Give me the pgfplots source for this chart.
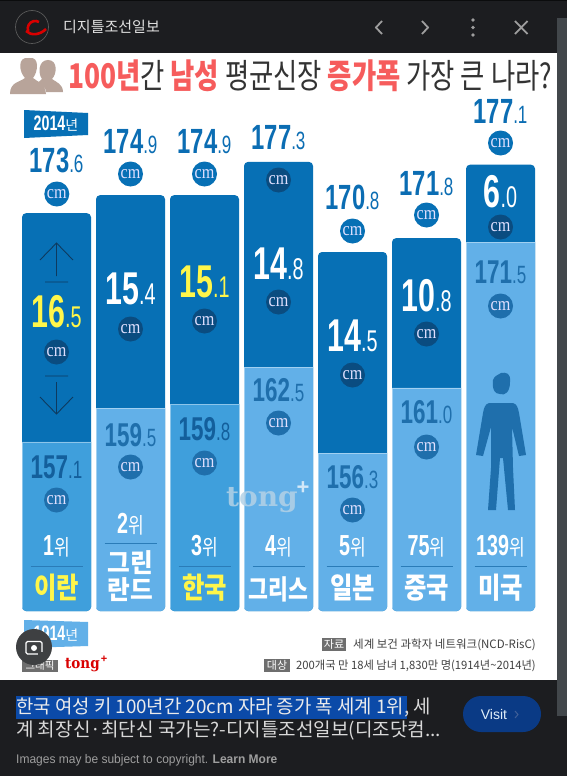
\documentclass[border=0pt]{standalone}
\usepackage{fontspec}
\usepackage{pgfplots}
\pgfplotsset{compat=1.18}
\usepackage{pgfplotstable}
\setmainfont{Liberation Sans}
\newfontfamily\kr{Noto Sans CJK KR}
\newfontfamily\numf[FakeStretch=0.68]{Liberation Sans}
\newfontfamily\bign[FakeStretch=0.66]{Liberation Sans}
\newfontfamily\cmf[FakeStretch=0.85]{Liberation Serif}
\newfontfamily\slab{DejaVu Serif}
\definecolor{bgd}{HTML}{1C1D20}
\definecolor{dk}{HTML}{0770B5}
\definecolor{lt}{HTML}{62B0E8}
\definecolor{ltd}{HTML}{3F9FDC}
\definecolor{tot}{HTML}{0B6DB3}
\definecolor{ltx}{HTML}{1F6FAC}
\definecolor{ltxd}{HTML}{135F9C}
\definecolor{ccd}{HTML}{0A4C80}
\definecolor{red1}{HTML}{F65C5C}
\definecolor{yel}{HTML}{FFF64A}
\definecolor{scr}{HTML}{42474B}
\definecolor{peo}{HTML}{B8A49A}
\definecolor{arr}{HTML}{0E3A5F}
\definecolor{rul}{HTML}{2A7CB8}
\definecolor{wm}{HTML}{B4D2E6}
\definecolor{gry}{HTML}{6E6E6E}
\definecolor{lens}{HTML}{3E4042}
\definecolor{sel}{HTML}{0B4AA8}
\definecolor{vis}{HTML}{0A3A85}
\definecolor{vis2}{HTML}{3F5F98}
\pgfplotstableread{
x total
0 173.6
1 174.9
2 174.9
3 177.3
4 170.8
5 171.8
6 177.1
}\totals
\pgfplotstableread{
x base
0 157.1
2 159.8
}\lightA
\pgfplotstableread{
x base
1 159.5
3 162.5
4 156.3
5 161.0
6 171.5
}\lightB
\newcommand\fs[1]{\fontsize{#1bp}{#1bp}\selectfont}
\newcommand\num[6]{\node[text=#6,inner sep=0] at (#1,#2) {\numf\bfseries\fs{#3}#4\mdseries\fs{25}#5};}
\newcommand\vb[6]{\node[text=#6,inner sep=0] at (#1,#2) {\bign\bfseries\fs{46}#3\mdseries\fs{#4}#5};}
\newcommand\cmc[3]{\fill[#3] (#1,#2) circle (12.5);\node[text=white!88!blue,inner sep=0] at (#1,#2) {\cmf\fs{19}cm};}
\newcommand\rk[3]{\node[text=white,inner sep=0] at (#1,#2) {\numf\bfseries\fs{29}#3\kr\mdseries\fs{19}\scalebox{0.9}[1.15]{위}};}
\newcommand\nm[4]{\node[text=#4,inner sep=0] at (#1,#2) {\kr\bfseries\fs{29}\scalebox{0.84}[1]{#3}};}
\begin{document}
\begin{tikzpicture}[x=1bp,y=-1bp]
\useasboundingbox (0,0) rectangle (567,776);
\fill[bgd] (0,0) rectangle (567,776);
\fill[white] (0,53) rectangle (557,680);
\fill[black!60!bgd] (0,0) rectangle (567,1);
\fill[scr] (557,18) rectangle (567,716);
% header
\draw[gray!70!black,line width=0.7] (32,27) circle (16.5);
\draw[red!85!black,line width=2.6] (39,22) arc (-60:-200:7.5);
\draw[red!85!black,line width=2.6] (26,31) .. controls (31,36) and (40,35) .. (46,29);
\node[anchor=west,text=white!88!black,inner sep=0] at (63,27) {\kr\fs{15}디지틀조선일보};
\draw[white!62!black,line width=1.8] (382,21) -- (376,27.5) -- (382,34);
\draw[white!62!black,line width=1.8] (422,21) -- (428,27.5) -- (422,34);
\foreach \yy in {20,27.5,35} \fill[white!62!black] (473,\yy) circle (1.9);
\draw[white!62!black,line width=1.8] (515,21) -- (527.5,34) (527.5,21) -- (515,34);
% title
\fill[peo] (10,94) .. controls (10,82) and (20,82) .. (25,78) .. controls (19,72) and (17,56) .. (29,58) .. controls (40,56) and (38,72) .. (33,78) .. controls (37,82) and (45,82) .. (46,94) -- cycle;
\fill[peo] (46,92) -- (63,92) .. controls (63,84) and (56,82) .. (52,79) .. controls (57,74) and (58,60) .. (48,60) .. controls (38,60) and (38,74) .. (42,79) .. controls (39,82) and (37,83) .. (36,84) .. controls (43,85) and (46,88) .. (46,92) -- cycle;
\node[anchor=west,inner sep=0] at (68,76) {\kr\fs{34}\scalebox{0.775}[1]{\textcolor{red1}{\bfseries 100년}\textcolor{black!80}{간} \textcolor{red1}{\bfseries 남성} \textcolor{black!80}{평균신장} \textcolor{red1}{\bfseries 증가폭} \textcolor{black!80}{가장 큰 나라?}}};
% bars (bottom corners rounded by this clip)
\begin{scope}
\clip[rounded corners=4]
 (22,100) -- (22,611) -- (91,611) -- (91,100) -- cycle
 (96,100) -- (96,611) -- (165,611) -- (165,100) -- cycle
 (170,100) -- (170,611) -- (239.5,611) -- (239.5,100) -- cycle
 (244,100) -- (244,611) -- (313,611) -- (313,100) -- cycle
 (318,100) -- (318,611) -- (387,611) -- (387,100) -- cycle
 (392,100) -- (392,611) -- (461,611) -- (461,100) -- cycle
 (466,100) -- (466,611) -- (535,611) -- (535,100) -- cycle;
\begin{axis}[
  at={(19.5bp,-611bp)},anchor=south west,scale only axis,
  width=518bp,height=486.5bp,
  xmin=-0.5,xmax=6.5,ymin=144.9,ymax=180,
  hide axis,clip=false,
  ybar,bar width=69bp,bar shift=0pt]
\addplot[fill=dk,draw=none,rounded corners=4bp] table[x=x,y=total] {\totals};
\addplot[fill=ltd,draw=white!40!ltd,line width=0.4pt] table[x=x,y=base] {\lightA};
\addplot[fill=lt,draw=white!40!lt,line width=0.4pt] table[x=x,y=base] {\lightB};
\end{axis}
\end{scope}
% tags
\fill[dk] (24,110) -- (88,113) -- (88,135) -- (24,138) -- cycle;
\node[text=white,inner sep=0] at (56,124) {\numf\bfseries\fs{21}2014\kr\mdseries\fs{14}년};
\fill[lt] (24,620) -- (88,622) -- (88,646) -- (24,648) -- cycle;
\node[text=white,inner sep=0] at (56,634) {\numf\bfseries\fs{21}1914\kr\mdseries\fs{14}년};
% totals
\num{56.5}{160}{35}{173}{.6}{tot}
\num{130.5}{142}{35}{174}{.9}{tot}
\num{204.5}{142}{35}{174}{.9}{tot}
\num{278.5}{138}{35}{177}{.3}{tot}
\num{352.5}{197}{35}{170}{.8}{tot}
\num{426.5}{184}{35}{171}{.8}{tot}
\num{500.5}{111}{35}{177}{.1}{tot}
\cmc{56.8}{194}{dk}
\cmc{130.5}{174}{dk}
\cmc{204.5}{174}{dk}
\cmc{278.5}{180}{ccd}
\cmc{352.5}{231}{dk}
\cmc{426.5}{215}{dk}
\cmc{500.5}{143}{dk}
% differences
\vb{56.5}{312}{16}{30}{.5}{yel}
\vb{130.5}{289}{15}{30}{.4}{white}
\vb{204.5}{282}{15}{30}{.1}{yel}
\vb{278.5}{264}{14}{30}{.8}{white}
\vb{352.5}{336}{14}{30}{.5}{white}
\vb{426.5}{296}{10}{30}{.8}{white}
\vb{500.5}{192}{6}{30}{.0}{white}
\cmc{56.5}{352}{ccd}
\cmc{130.5}{329}{ccd}
\cmc{204.5}{321}{ccd}
\cmc{278.5}{302}{ccd}
\cmc{352.5}{375}{ccd}
\cmc{426.5}{334}{ccd}
\cmc{500.5}{227}{ccd}
% lights
\num{56.5}{467}{33}{157}{.1}{ltxd}
\num{130.5}{435}{33}{159}{.5}{ltx}
\num{204.5}{429}{33}{159}{.8}{ltxd}
\num{278.5}{390}{33}{162}{.5}{ltx}
\num{352.5}{477}{33}{156}{.3}{ltx}
\num{426.5}{412}{33}{161}{.0}{ltx}
\num{500.5}{272}{33}{171}{.5}{ltx}
\cmc{56.5}{500}{ltx}
\cmc{130.5}{467}{ltx}
\cmc{204.5}{463}{ltx}
\cmc{278.5}{423}{ltx}
\cmc{352.5}{510}{ltx}
\cmc{426.5}{447}{ltx}
\cmc{500.5}{306}{ltx}
% arrows
\draw[arr,line width=0.9] (40,260) -- (56.5,243) -- (73,260) (56.5,243) -- (56.5,276) (45,282) -- (68,282);
\draw[arr,line width=0.9] (40,397) -- (56.5,414) -- (73,397) (56.5,414) -- (56.5,382) (45,376) -- (68,376);
% man
\fill[ltx] (501,373) .. controls (506,372) and (511,373) .. (510,382) .. controls (510,392) and (505,396) .. (500,394) .. controls (495,394) and (492,390) .. (493,380) .. controls (494,376) and (498,375) .. (501,373) -- cycle;
\fill[ltx] (489,403) -- (513,403) .. controls (517,404) and (518,408) .. (519,413) -- (526,455) -- (519,456) -- (512,427) -- (513,468) -- (515,510) -- (508,510) -- (503,458) -- (500,458) -- (496,510) -- (488,510) -- (491,468) -- (491,427) -- (483,456) -- (476,455) -- (483,413) .. controls (484,408) and (485,404) .. (489,403) -- cycle;
% ranks
\rk{56.5}{546}{1}
\rk{130.5}{524}{2}
\rk{204.5}{546}{3}
\rk{278.5}{546}{4}
\rk{352.5}{546}{5}
\rk{426.5}{546}{75}
\rk{500.5}{546}{139}
\foreach \cx/\ly in {56.5/566,130.5/543,204.5/566,278.5/566,352.5/566,426.5/566,500.5/566}
  \draw[rul,line width=0.8] (\cx-26,\ly) -- (\cx+26,\ly);
\nm{56.5}{588}{이란}{yel}
\node[text=white,inner sep=0] at (130.5,563) {\kr\bfseries\fs{26}\scalebox{0.95}[1]{그린}};
\node[text=white,inner sep=0] at (130.5,590) {\kr\bfseries\fs{26}\scalebox{0.95}[1]{란드}};
\nm{204.5}{588}{한국}{yel}
\node[text=white,inner sep=0] at (278.5,589) {\kr\bfseries\fs{27}\scalebox{0.8}[1]{그리스}};
\nm{352.5}{588}{일본}{white}
\nm{426.5}{588}{중국}{white}
\nm{500.5}{588}{미국}{white}
% watermark
\node[text=wm,opacity=0.85,inner sep=0] at (262,500) {\slab\bfseries\fs{28}\scalebox{1.0}[1]{tong}};
\node[text=white!80!lt,opacity=0.9,inner sep=0] at (303,488) {\bfseries\fs{22}+};
% bottom labels
\fill[gry] (22,660) rectangle (58,672);
\node[text=white,inner sep=0] at (40,666) {\kr\fs{10.5}그래픽};
\node[anchor=west,text=red!85!black,inner sep=0] at (65,665) {\slab\bfseries\fs{15}\scalebox{0.9}[1]{tong}};
\node[text=red!85!black,inner sep=0] at (104,659) {\bfseries\fs{11}+};
\fill[gry] (322,638) rectangle (346,651);
\node[text=white,inner sep=0] at (334,644.5) {\kr\fs{11}자료};
\node[anchor=east,inner sep=0,text=black!75] at (536,644.5) {\kr\fs{11.5}\scalebox{1.0}[1]{세계 보건 과학자 네트워크(NCD-RisC)}};
\fill[gry] (264,659) rectangle (290,672);
\node[text=white,inner sep=0] at (277,665.5) {\kr\fs{11}대상};
\node[anchor=east,inner sep=0,text=black!75] at (536,665.5) {\kr\fs{11.5}\scalebox{0.98}[1]{200개국 만 18세 남녀 1,830만 명(1914년\textasciitilde 2014년)}};
% lens
\fill[lens] (34,647) circle (18);
\draw[white,line width=1.4,rounded corners=1.5] (26,641.5) -- (42,641.5) -- (42,654) -- (26,654) -- cycle;
\fill[white] (34,648) circle (3);
\fill[lens] (38,652) rectangle (44,656);
% footer
\fill[sel] (16,696) rectangle (407,719);
\node[anchor=west,text=white!92!black,inner sep=0] at (16,707.5) {\kr\fs{18.85}한국 여성 키 100년간 20cm 자라 증가 폭 세계 1위\textcolor{white!85!black}{, 세}};
\node[anchor=west,text=white!85!black,inner sep=0] at (16,731) {\kr\fs{18.85}\scalebox{1.01}[1]{계 최장신·최단신 국가는?-디지틀조선일보(디조닷컴...}};
\node[anchor=west,text=white!62!black,inner sep=0] at (16,760) {\fs{12.5}\scalebox{0.96}[1]{Images may be subject to copyright. \textbf{Learn More}}};
\fill[vis,rounded corners=18] (463,696) rectangle (541,732);
\node[text=white!80!lt,inner sep=0] at (494,714) {\fs{14}Visit};
\draw[vis2,line width=1] (515,711) -- (518,714.5) -- (515,718);
\end{tikzpicture}
\end{document}
